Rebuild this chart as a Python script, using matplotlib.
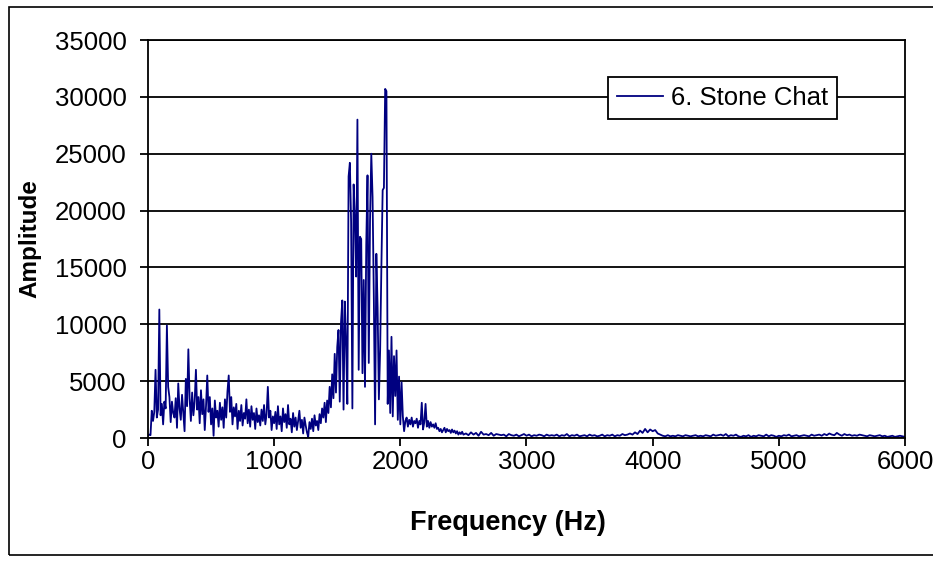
import matplotlib
matplotlib.use("Agg")
import matplotlib.pyplot as plt
import numpy as np
from matplotlib.patches import Rectangle

plt.rcParams['font.family'] = ['Liberation Sans', 'DejaVu Sans']

# 0 - 2500 Hz, read every 10 Hz
low_step = 10
amp_low = [
    200, 300, 250, 2400, 1500, 2300, 6000, 1800, 2500, 11300, 2000,
    3000, 1200, 3200, 2600, 9900, 4500, 3600, 1400, 3200, 2200,
    1800, 3500, 900, 4800, 2600, 1600, 3800, 2200, 600, 5200,
    2800, 7800, 3500, 1500, 4000, 2000, 3200, 6000, 2500, 3600,
    1300, 4200, 2100, 3400, 700, 2800, 5500, 2300, 3600, 1200,
    2600, 200, 3300, 1800, 2400, 1000, 3100, 1600, 2700, 900,
    3400, 1800, 4100, 5500, 2300, 3600, 1200, 2700, 1900, 3000,
    800, 2400, 1500, 2900, 1100, 2200, 1700, 3400, 1300, 2500,
    1000, 2800, 1600, 2200, 800, 2600, 1400, 2000, 1100, 2500,
    1500, 2900, 1200, 2100, 4500, 1800, 2400, 700, 1900, 1300,
    2300, 800, 2800, 1200, 1900, 600, 2600, 1400, 2100, 900,
    2900, 1200, 1700, 500, 2200, 1000, 1800, 700, 1500, 2400,
    900, 1600, 400, 1800, 1100, 500, 100, 1400, 800, 1700,
    600, 2000, 1100, 1500, 700, 2100, 1300, 2600, 1800, 3100,
    1400, 3300, 2200, 4500, 2700, 5600, 3500, 7400, 4000, 8000,
    9500, 3200, 10200, 12100, 2500, 12000, 8400, 3000, 23000, 24200,
    19000, 2600, 22300, 19500, 14200, 28000, 6000, 17700, 17500, 5700,
    13900, 4500, 17000, 23100, 6600, 19200, 25000, 21200, 12400, 1200,
    16200, 11500, 3400, 7700, 15100, 21800, 22000, 30700, 30500, 3000,
    7700, 2200, 8900, 1900, 7200, 3700, 7700, 1600, 5400, 1200,
    4900, 1900, 600, 1500, 1800, 1000, 1600, 1200, 1800, 1000,
    1500, 1300, 1700, 900, 1500, 1200, 3100, 750, 1400, 3000,
    1000, 1500, 900, 1400, 1000, 1200, 900, 1300, 800, 900,
    600, 800, 500, 700, 900, 500, 800, 600, 700, 450,
    750, 500, 650, 400, 600, 300, 500, 350, 550, 300,
]

# 2520 - 6000 Hz, read every 20 Hz
high_start = 2520
high_step = 20
amp_high = [
    400, 250, 500, 300, 450, 200, 550, 300, 350, 250, 450, 200, 350, 300, 250,
    300, 150, 350, 250, 200, 300, 150, 250, 350, 200, 300, 150, 250, 200, 300, 250, 150, 300, 200, 250,
    200, 300, 150, 250, 200, 350, 150, 250, 200, 300, 150, 200, 250, 150, 300, 200, 250, 150, 200, 300,
    150, 250, 200, 300, 150, 250, 200, 350, 250, 300, 400, 300, 500, 350, 650, 450, 800, 500, 750, 600,
    700, 400, 300, 200, 150, 250, 150, 200, 150, 250, 200, 150, 250, 200, 150, 200, 250, 150, 200, 150,
    250, 200, 150, 300, 200, 250, 300, 200, 350, 150, 250, 200, 300, 150, 100, 200, 150, 250, 100, 200,
    150, 250, 200, 150, 300, 150, 250, 200, 100, 200, 150, 250, 200, 300, 150, 200, 250, 150, 200, 250,
    200, 150, 300, 200, 250, 300, 200, 350, 250, 400, 300, 250, 450, 300, 200, 350, 250, 300, 200, 250,
    200, 300, 250, 200, 150, 250, 200, 150, 200, 250, 150, 200, 100, 150, 200, 100, 150, 200, 150, 100,
]

freq = np.concatenate([np.arange(len(amp_low)) * low_step,
                       high_start + np.arange(len(amp_high)) * high_step])
amp = np.array(amp_low + amp_high)

fig = plt.figure(figsize=(9.33, 5.62), dpi=100)
# chart border (right side runs past the picture)
fig.patches.append(Rectangle((0.0095, 0.012), 1.0, 0.975, transform=fig.transFigure,
                             fill=False, edgecolor='black', linewidth=1.2))

ax = fig.add_axes([0.1586, 0.2206, 0.8114, 0.7082])
ax.plot(freq, amp, color='#000080', linewidth=1.3, label='6. Stone Chat')

ax.set_xlim(0, 6000)
ax.set_ylim(0, 35000)
ax.set_xticks(np.arange(0, 6001, 1000))
ax.set_yticks(np.arange(0, 35001, 5000))
ax.yaxis.grid(True, color='black', linewidth=1.3)
ax.set_axisbelow(True)
for s in ax.spines.values():
    s.set_linewidth(1.3)
ax.tick_params(direction='out', length=5.5, width=1.3, labelsize=18.5)
ax.tick_params(axis='y', pad=10)
ax.tick_params(axis='x', pad=3)

ax.set_xlabel('Frequency (Hz)', fontsize=19.5, fontweight='bold')
ax.xaxis.set_label_coords(0.476, -0.2136)
ax.xaxis.label.set_verticalalignment('center')
ax.set_ylabel('Amplitude', fontsize=17.5, fontweight='bold')
ax.yaxis.set_label_coords(-0.156, 0.5)
ax.yaxis.label.set_verticalalignment('center')

leg = ax.legend(loc='upper left', bbox_to_anchor=(0.6077, 0.907), fontsize=18.5,
                fancybox=False, framealpha=1, edgecolor='black', handlelength=1.8,
                handletextpad=0.3, borderpad=0.35, borderaxespad=0)
leg.get_frame().set_linewidth(1.3)

fig.savefig('out.png', dpi=100)
